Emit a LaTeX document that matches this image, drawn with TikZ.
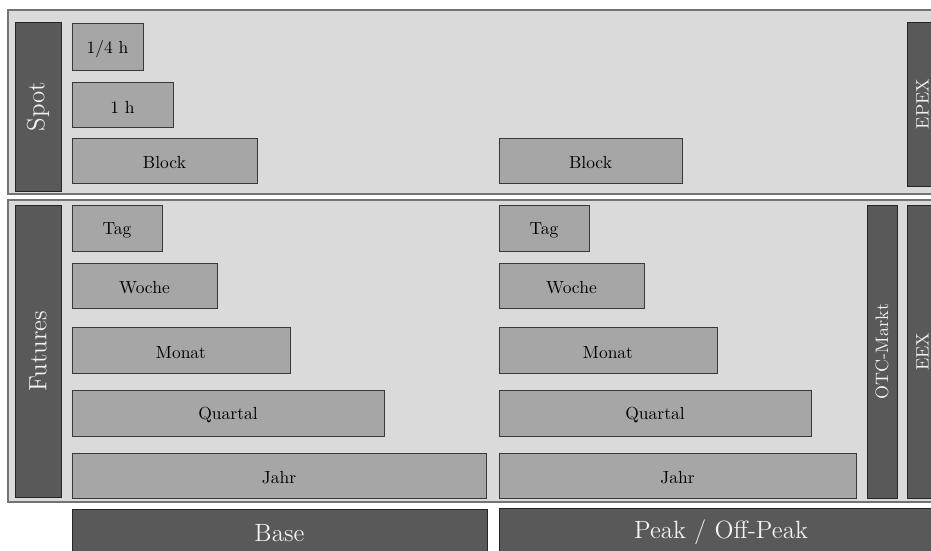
\documentclass[tikz,border=0pt]{standalone}
\usepackage{graphicx}
\newcommand{\smtxt}[1]{\raisebox{-2.5pt}[\height][\depth]{\scalebox{1.75}{\fontsize{10}{12}\selectfont #1}}}
\newcommand{\bgtxt}[1]{\scalebox{2.08}{\fontsize{12}{14}\selectfont #1}}
\newcommand{\mdtxt}[1]{\scalebox{1.8}{\fontsize{10}{12}\selectfont #1}}
\begin{document}
\begin{tikzpicture}[x=1pt,y=-1pt,
  panel/.style={draw=panelline, line width=1.4pt, fill=panelfill, anchor=north west, inner sep=0pt, outer sep=0pt},
  mbox/.style={draw=boxline, line width=0.9pt, fill=boxfill, anchor=north west, inner sep=0pt, outer sep=0pt, text=black},
  dbox/.style={draw=darkline, line width=0.9pt, fill=darkfill, inner sep=0pt, outer sep=0pt, text=darktext},
  vlab/.style={dbox, rotate=90, anchor=center},
  hlab/.style={dbox, anchor=north west}]
\definecolor{panelfill}{gray}{0.855}
\definecolor{panelline}{gray}{0.45}
\definecolor{boxfill}{gray}{0.65}
\definecolor{boxline}{gray}{0.22}
\definecolor{darkfill}{gray}{0.35}
\definecolor{darkline}{gray}{0.15}
\definecolor{darktext}{gray}{0.95}
\useasboundingbox (0,0) rectangle (931,550);
\fill[white] (0,0) rectangle (931,550);
\clip (0,0) rectangle (931,550);
% panels
\node[panel, minimum width=940, minimum height=184] (spotpanel) at (8,10) {};
\node[panel, minimum width=940, minimum height=302] (futpanel) at (8,200) {};
% side labels
\node[vlab, minimum width=169, minimum height=46] (spot) at (38,106.5) {\bgtxt{Spot}};
\node[vlab, minimum width=292, minimum height=46] (futures) at (38,351) {\bgtxt{Futures}};
\node[vlab, minimum width=164, minimum height=31] (epex) at (922.5,104) {\mdtxt{EPEX}};
\node[vlab, minimum width=293, minimum height=30] (otc) at (882,351.5) {\mdtxt{OTC-Markt}};
\node[vlab, minimum width=293, minimum height=31] (eex) at (922.5,351.5) {\mdtxt{EEX}};
% spot products
\node[mbox, minimum width=71, minimum height=47] (qh) at (72,23) {\smtxt{1/4 h}};
\node[mbox, minimum width=101, minimum height=45] (h1) at (72,82) {\smtxt{1 h}};
\node[mbox, minimum width=185, minimum height=45] (blockb) at (72,138) {\smtxt{Block}};
\node[mbox, minimum width=183, minimum height=45] (blockp) at (499,138) {\smtxt{Block}};
% futures base
\node[mbox, minimum width=90, minimum height=46] (tagb) at (72,205) {\smtxt{Tag}};
\node[mbox, minimum width=145, minimum height=45] (wocheb) at (72,263) {\smtxt{Woche}};
\node[mbox, minimum width=218, minimum height=46] (monatb) at (72,327) {\smtxt{Monat}};
\node[mbox, minimum width=312, minimum height=46] (quartalb) at (72,390) {\smtxt{Quartal}};
\node[mbox, minimum width=414, minimum height=45] (jahrb) at (72,453) {\smtxt{Jahr}};
% futures peak
\node[mbox, minimum width=90, minimum height=46] (tagp) at (499,205) {\smtxt{Tag}};
\node[mbox, minimum width=145, minimum height=45] (wochep) at (499,263) {\smtxt{Woche}};
\node[mbox, minimum width=218, minimum height=46] (monatp) at (499,327) {\smtxt{Monat}};
\node[mbox, minimum width=312, minimum height=46] (quartalp) at (499,390) {\smtxt{Quartal}};
\node[mbox, minimum width=357, minimum height=45] (jahrp) at (499,453) {\smtxt{Jahr}};
% bottom labels
\node[hlab, minimum width=415, minimum height=48] (base) at (72,509) {\bgtxt{Base}};
\node[hlab, minimum width=444, minimum height=48] (peak) at (499,508) {\bgtxt{Peak / Off-Peak}};
\end{tikzpicture}
\end{document}
